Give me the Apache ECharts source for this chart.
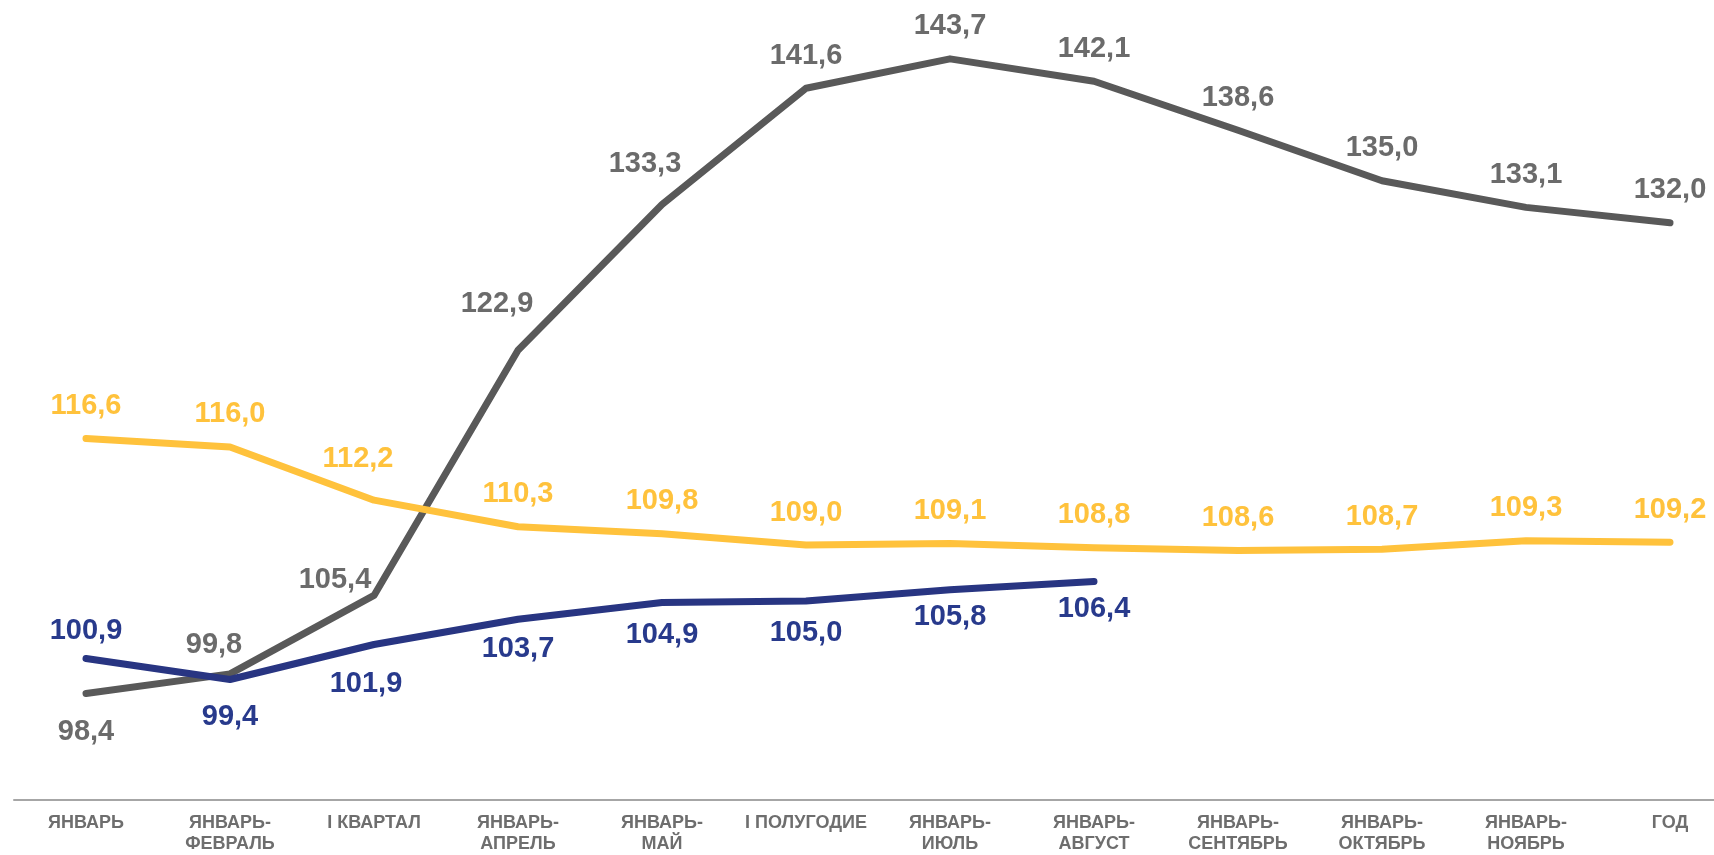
<!DOCTYPE html>
<html>
<head>
<meta charset="utf-8">
<script src="https://cdn.jsdelivr.net/npm/echarts@6/dist/echarts.min.js"></script>
<style>
html,body{margin:0;padding:0;background:#fff;width:1714px;height:855px;overflow:hidden;}
#c{width:1742px;height:855px;}
</style>
</head>
<body>
<div id="c"></div>
<script>
const categories = ['ЯНВАРЬ','ЯНВАРЬ-ФЕВРАЛЬ','I КВАРТАЛ','ЯНВАРЬ-АПРЕЛЬ','ЯНВАРЬ-МАЙ','I ПОЛУГОДИЕ','ЯНВАРЬ-ИЮЛЬ','ЯНВАРЬ-АВГУСТ','ЯНВАРЬ-СЕНТЯБРЬ','ЯНВАРЬ-ОКТЯБРЬ','ЯНВАРЬ-НОЯБРЬ','ГОД'];
const grayValues = [98.4, 99.8, 105.4, 122.9, 133.3, 141.6, 143.7, 142.1, 138.6, 135.0, 133.1, 132.0];
const yellowValues = [116.6, 116.0, 112.2, 110.3, 109.8, 109.0, 109.1, 108.8, 108.6, 108.7, 109.3, 109.2];
const navyValues = [100.9, 99.4, 101.9, 103.7, 104.9, 105.0, 105.8, 106.4, null, null, null, null];

// label placement tweaks (style only)
const grayLabelTweaks = {0:{position:'bottom',offset:[0,6]},1:{offset:[-16,4]},2:{offset:[-39,17]},3:{offset:[-21,-14]},4:{offset:[-17,-8]}};
const yellowLabelTweaks = {2:{offset:[-16,-9]}};
const navyLabelTweaks = {0:{position:'top'},1:{offset:[0,10]},2:{offset:[-8,12]},3:{offset:[0,2]},4:{offset:[0,5]},5:{offset:[0,4]}};

const fmt = p => p.value == null ? '' : Number(p.value).toFixed(1).replace('.', ',');

function build(values, tweaks){
  return values.map((v,i)=> tweaks[i] ? {value:v, label:tweaks[i]} : v);
}

function series(name, values, tweaks, lineColor, labelColor, pos, dist){
  return {
    name, type:'line', data: build(values, tweaks),
    symbol:'circle', symbolSize:2, showSymbol:true,
    itemStyle:{color:lineColor},
    lineStyle:{color:lineColor, width:7, cap:'round', join:'round'},
    label:{show:true, position:pos, distance:dist, formatter:fmt,
      color:labelColor, fontFamily:'Liberation Sans, Arial, sans-serif', fontWeight:'bold', fontSize:29, lineHeight:29},
    emphasis:{disabled:true}, animation:false, connectNulls:false
  };
}

const chart = echarts.init(document.getElementById('c'));
chart.setOption({
  animation:false,
  grid:{left:14, right:0, top:0, bottom:51},
  xAxis:{
    type:'category', data:categories, boundaryGap:true,
    axisLine:{show:true, lineStyle:{color:'#a6a6a6', width:2}},
    axisTick:{show:false},
    axisLabel:{interval:0, margin:13, color:'#6e6e6e', fontFamily:'Liberation Sans, Arial, sans-serif', fontWeight:'bold', fontSize:18, lineHeight:21,
      formatter: v => v.replace('-', '-\n')}
  },
  yAxis:{type:'value', min:90.8, max:147.9, show:false, splitLine:{show:false}},
  series:[
    series('s1', grayValues, grayLabelTweaks, '#595959', '#6b6b6b', 'top', 17),
    series('s2', yellowValues, yellowLabelTweaks, '#FFC23C', '#FFC23C', 'top', 17),
    series('s3', navyValues, navyLabelTweaks, '#283582', '#283a8c', 'bottom', 12)
  ]
});
</script>
</body>
</html>
